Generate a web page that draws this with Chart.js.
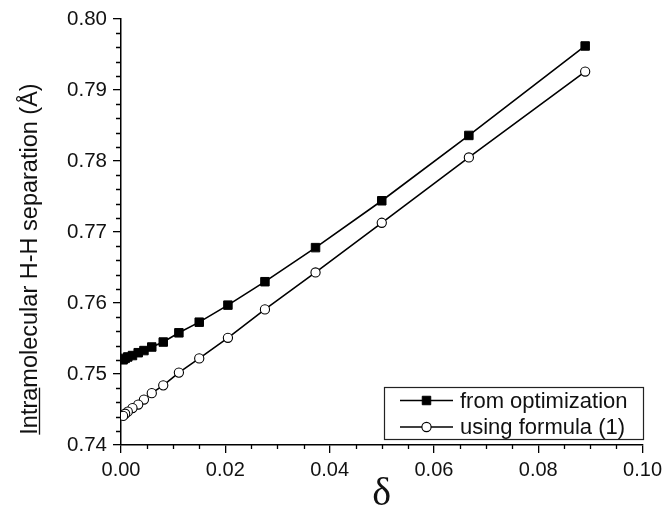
<!DOCTYPE html>
<html><head><meta charset="utf-8">
<script src="https://cdn.jsdelivr.net/npm/chart.js@4.4.1/dist/chart.umd.min.js"></script>
<style>html,body{margin:0;padding:0;background:#fff;overflow:hidden}#wrap{width:667px;height:517px}</style>
</head><body><div id="wrap"><canvas id="c" width="667" height="517"></canvas></div>
<script>
// ---- data ----
const deltaValues        = [0.0890, 0.0667, 0.0500, 0.0373, 0.0276, 0.0205, 0.0150, 0.0111, 0.0081, 0.0059, 0.0044, 0.0033, 0.0022, 0.0013, 0.0008, 0.0004];
const optimizationValues = [0.7962, 0.7836, 0.7744, 0.7678, 0.7630, 0.7597, 0.7573, 0.7558, 0.7545, 0.7538, 0.7533, 0.7530, 0.7526, 0.7524, 0.7522, 0.7520];
const formulaValues      = [0.7926, 0.7805, 0.7713, 0.7643, 0.7591, 0.7551, 0.7522, 0.7502, 0.7484, 0.7473, 0.7464, 0.7457, 0.7452, 0.7447, 0.7444, 0.7441];
const seriesLabels = ['from optimization', 'using formula (1)'];
const xTickValues = [0.00, 0.02, 0.04, 0.06, 0.08, 0.10];
const yTickValues = [0.74, 0.75, 0.76, 0.77, 0.78, 0.79, 0.80];
const xMinorStep = 0.005;
const yMinorStep = 0.002;
const xTitleText = 'δ';
const yTitleUnderlined = 'Intra';
const yTitleRest = 'molecular H-H separation (Å)';

const SANS = '"Liberation Sans", Arial, Helvetica, sans-serif';
const SERIF = '"Liberation Serif", "Times New Roman", serif';

function pts(ys){ return deltaValues.map((x,i)=>({x:x, y:ys[i]})); }

const decor = {
  id: 'decor',
  afterDraw(chart){
    const ctx = chart.ctx, xs = chart.scales.x, ys = chart.scales.y, ca = chart.chartArea;
    ctx.save();
    ctx.strokeStyle = '#000';
    ctx.lineWidth = 1.3;
    // minor ticks
    ctx.beginPath();
    for (let k = 0; k * xMinorStep <= xs.max + 1e-9; k++) {
      const v = k * xMinorStep;
      if (xTickValues.some(t => Math.abs(t - v) < 1e-9)) continue;
      const px = Math.round(xs.getPixelForValue(v)) + 0.5;
      ctx.moveTo(px, ca.bottom); ctx.lineTo(px, ca.bottom + 4);
    }
    for (let k = 0; ys.min + k * yMinorStep <= ys.max + 1e-9; k++) {
      const v = ys.min + k * yMinorStep;
      if (yTickValues.some(t => Math.abs(t - v) < 1e-9)) continue;
      const py = Math.round(ys.getPixelForValue(v)) + 0.5;
      ctx.moveTo(ca.left, py); ctx.lineTo(ca.left - 5, py);
    }
    ctx.stroke();

    // y-axis title with underlined part
    ctx.fillStyle = '#111';
    ctx.font = '23.5px ' + SANS;
    const wU = ctx.measureText(yTitleUnderlined).width;
    const wR = ctx.measureText(yTitleRest).width;
    const total = wU + wR;
    const cy = 259, bx = 37;
    ctx.translate(bx, cy);
    ctx.rotate(-Math.PI / 2);
    ctx.textAlign = 'left';
    ctx.textBaseline = 'alphabetic';
    ctx.fillText(yTitleUnderlined, -total / 2, 0);
    ctx.fillText(yTitleRest, -total / 2 + wU, 0);
    ctx.lineWidth = 1.3;
    ctx.strokeStyle = '#111';
    ctx.beginPath();
    ctx.moveTo(-total / 2, 2.5); ctx.lineTo(-total / 2 + wU, 2.5);
    ctx.stroke();
    ctx.setTransform(1, 0, 0, 1, 0, 0);

    // legend box
    const L = 384.5, T = 387.5, R = 643.5, B = 439.5;
    ctx.fillStyle = '#fff';
    ctx.fillRect(L, T, R - L, B - T);
    ctx.strokeStyle = '#222'; ctx.lineWidth = 1.2;
    ctx.strokeRect(L, T, R - L, B - T);
    const rows = [400.5, 427];
    chart.data.datasets.forEach((ds, i) => {
      const y = rows[i];
      ctx.strokeStyle = '#000'; ctx.lineWidth = 1.6;
      ctx.beginPath(); ctx.moveTo(400, y); ctx.lineTo(453, y); ctx.stroke();
      ctx.fillStyle = ds.pointBackgroundColor;
      ctx.strokeStyle = ds.pointBorderColor;
      ctx.lineWidth = ds.pointBorderWidth;
      Chart.helpers.drawPoint(ctx, {pointStyle: ds.pointStyle, radius: ds.pointRadius, rotation: 0, borderWidth: ds.pointBorderWidth}, 426.5, y);
      ctx.fillStyle = '#111';
      ctx.font = '22px ' + SANS;
      ctx.textAlign = 'left'; ctx.textBaseline = 'middle';
      ctx.fillText(ds.label, 460, y + 1);
    });
    ctx.restore();
  }
};

new Chart(document.getElementById('c'), {
  type: 'line',
  data: {
    datasets: [
      { label: seriesLabels[0], data: pts(optimizationValues), borderColor: '#000', borderWidth: 1.6,
        pointStyle: 'rect', pointRadius: 6, pointBackgroundColor: '#000', pointBorderColor: '#000', pointBorderWidth: 1,
        tension: 0, fill: false },
      { label: seriesLabels[1], data: pts(formulaValues), borderColor: '#000', borderWidth: 1.6,
        pointStyle: 'circle', pointRadius: 4.6, pointBackgroundColor: '#fff', pointBorderColor: '#000', pointBorderWidth: 1.1,
        tension: 0, fill: false }
    ]
  },
  options: {
    responsive: false,
    animation: false,
    devicePixelRatio: 1,
    layout: { autoPadding: false, padding: { top: 19, right: 23, left: 0, bottom: 0 } },
    plugins: { legend: { display: false }, tooltip: { enabled: false }, title: { display: false } },
    scales: {
      x: {
        type: 'linear', min: 0, max: 0.1,
        afterFit: s => { s.height = 72; },
        afterBuildTicks: s => { s.ticks = xTickValues.map(v => ({ value: v })); },
        ticks: { font: { family: SANS, size: 20 }, color: '#111', padding: 5, maxRotation: 0,
                 callback: v => v.toFixed(2) },
        grid: { drawOnChartArea: false, drawTicks: true, tickLength: 8, color: '#000', lineWidth: 1.3 },
        border: { display: true, color: '#000', width: 1.5 },
        title: { display: true, text: xTitleText, color: '#111', font: { family: SERIF, size: 40, lineHeight: 1.1 }, padding: { top: 0, bottom: 1 } }
      },
      y: {
        type: 'linear', min: 0.74, max: 0.80,
        afterFit: s => { s.width = 121; },
        afterBuildTicks: s => { s.ticks = yTickValues.map(v => ({ value: v })); },
        ticks: { font: { family: SANS, size: 20.5 }, color: '#111', padding: 6,
                 callback: v => v.toFixed(2) },
        grid: { drawOnChartArea: false, drawTicks: true, tickLength: 8, color: '#000', lineWidth: 1.3 },
        border: { display: true, color: '#000', width: 1.5 },
        title: { display: false }
      }
    }
  },
  plugins: [decor]
});
</script>
</body></html>
